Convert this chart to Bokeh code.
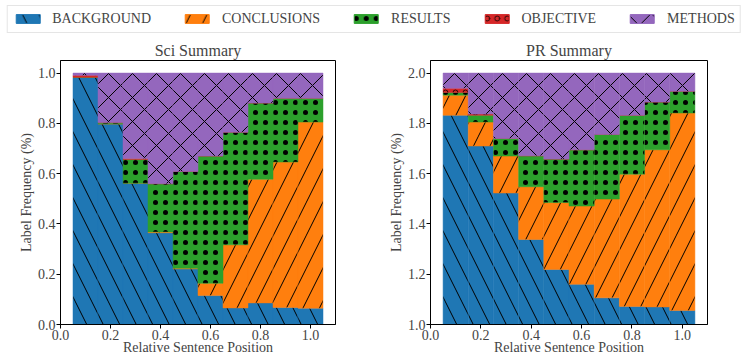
from bokeh.plotting import figure
from bokeh.layouts import column, row
from bokeh.models import Legend, LegendItem, FixedTicker, PrintfTickFormatter, Range1d
from bokeh.embed import file_html
from bokeh.resources import INLINE

# ---------------- data ----------------
labels = ["BACKGROUND", "CONCLUSIONS", "RESULTS", "OBJECTIVE", "METHODS"]
positions = [0.1, 0.2, 0.3, 0.4, 0.5, 0.6, 0.7, 0.8, 0.9, 1.0]

sci_background = [0.983, 0.798, 0.562, 0.365, 0.221, 0.115, 0.066, 0.086, 0.068, 0.065]
sci_conclusions = [0.000, 0.000, 0.000, 0.003, 0.003, 0.049, 0.251, 0.492, 0.578, 0.740]
sci_results = [0.000, 0.005, 0.094, 0.192, 0.385, 0.506, 0.448, 0.303, 0.254, 0.095]
sci_objective = [0.008, 0.000, 0.004, 0.000, 0.000, 0.000, 0.000, 0.000, 0.000, 0.000]
sci_methods = [0.009, 0.197, 0.340, 0.440, 0.391, 0.330, 0.235, 0.119, 0.100, 0.100]
sci_base = 0.0

pr_background = [0.832, 0.710, 0.523, 0.338, 0.219, 0.160, 0.106, 0.072, 0.070, 0.056]
pr_conclusions = [0.080, 0.095, 0.147, 0.210, 0.266, 0.311, 0.393, 0.526, 0.625, 0.785]
pr_results = [0.011, 0.027, 0.070, 0.123, 0.173, 0.224, 0.257, 0.234, 0.190, 0.087]
pr_objective = [0.017, 0.005, 0.000, 0.000, 0.000, 0.000, 0.000, 0.000, 0.000, 0.000]
pr_methods = [0.060, 0.163, 0.260, 0.329, 0.342, 0.305, 0.244, 0.168, 0.115, 0.072]
pr_base = 1.0

x_ticks = [0.0, 0.2, 0.4, 0.6, 0.8, 1.0]
sci_y_ticks = [0.0, 0.2, 0.4, 0.6, 0.8, 1.0]
pr_y_ticks = [1.0, 1.2, 1.4, 1.6, 1.8, 2.0]

# ---------------- style ----------------
colors = ["#1f77b4", "#ff7f0e", "#2ca02c", "#d62728", "#9467bd"]
hatches = ["left_diagonal_line", "right_diagonal_line", "dot", "ring", "diagonal_cross"]
hscales = [33.0, 33.0, 10.0, 10.0, 24.0]
hweights = [1.0, 1.0, 0.5, 0.8, 1.0]
FONT = "Liberation Serif"
BAR_W = 0.1


def style_fig(p, yticks):
    p.xgrid.visible = False
    p.ygrid.visible = False
    p.outline_line_color = "black"
    p.outline_line_width = 1
    p.title.text_font = FONT
    p.title.text_font_size = "16px"
    p.title.text_font_style = "normal"
    p.title.align = "center"
    p.title.standoff = 3
    for ax in (p.xaxis[0], p.yaxis[0]):
        ax.axis_label_text_font = FONT
        ax.axis_label_text_font_size = "14px"
        ax.axis_label_text_font_style = "normal"
        ax.major_label_text_font = FONT
        ax.major_label_text_font_size = "14px"
        ax.major_tick_in = 0
        ax.major_tick_out = 4
        ax.minor_tick_line_color = None
        ax.axis_line_color = "black"
        ax.major_label_standoff = 1
        ax.formatter = PrintfTickFormatter(format="%.1f")
    p.xaxis[0].axis_label_standoff = -3
    p.yaxis[0].axis_label_standoff = 1
    p.xaxis[0].ticker = FixedTicker(ticks=x_ticks)
    p.yaxis[0].ticker = FixedTicker(ticks=yticks)
    p.xaxis.axis_label = "Relative Sentence Position"
    p.yaxis.axis_label = "Label Frequency (%)"


def make_panel(title, series, base, y_range, yticks, width, border_right):
    p = figure(title=title, width=width, height=326,
               x_range=Range1d(0.0, 1.1), y_range=Range1d(*y_range),
               toolbar_location=None, output_backend="svg",
               min_border_left=60, min_border_right=border_right,
               min_border_top=23, min_border_bottom=39)
    bottoms = [base] * len(positions)
    for vals, c, h, s, w in zip(series, colors, hatches, hscales, hweights):
        tops = [b + v for b, v in zip(bottoms, vals)]
        p.vbar(x=positions, bottom=bottoms, top=tops, width=BAR_W,
               fill_color=c, line_color=c, line_width=0.5,
               hatch_pattern=h, hatch_color="black", hatch_scale=s,
               hatch_weight=w)
        bottoms = tops
    style_fig(p, yticks)
    return p


p1 = make_panel("Sci Summary",
                [sci_background, sci_conclusions, sci_results, sci_objective, sci_methods],
                sci_base, (0.0, 1.05), sci_y_ticks, 370, 35)
p2 = make_panel("PR Summary",
                [pr_background, pr_conclusions, pr_results, pr_objective, pr_methods],
                pr_base, (1.0, 2.05), pr_y_ticks, 377, 40)

# ---------------- legend figure ----------------
pl = figure(width=747, height=37, x_range=Range1d(0, 1), y_range=Range1d(0, 1),
            x_axis_type=None, y_axis_type=None, toolbar_location=None,
            output_backend="svg", min_border=0)
pl.outline_line_color = None
items = []
for lab, c, h, s, w in zip(labels, colors, hatches, hscales, hweights):
    r = pl.vbar(x=[5.0], bottom=[5.0], top=[6.0], width=0.1, fill_color=c,
                line_color=c, hatch_pattern=h, hatch_color="black",
                hatch_scale=s, hatch_weight=w)
    items.append(LegendItem(label=lab, renderers=[r]))
leg = Legend(items=items, orientation="horizontal", location="center",
             label_text_font=FONT, label_text_font_size="14px",
             glyph_width=30, glyph_height=11, label_standoff=10,
             spacing=31, padding=5, margin=0,
             border_line_color="#cccccc", border_line_width=1,
             label_height=14)
pl.add_layout(leg)

layout = column(pl, row(p1, p2, spacing=0), spacing=0)

with open("out.html", "w") as f:
    f.write(file_html(layout, INLINE))
